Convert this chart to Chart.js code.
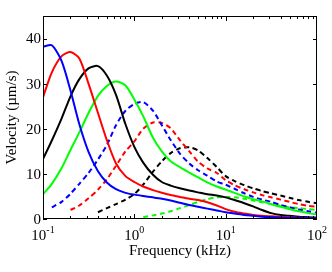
<!DOCTYPE html>
<html>
<head>
<meta charset="utf-8">
<script src="https://cdn.jsdelivr.net/npm/chart.js@4"></script>
<style>
  html, body { margin: 0; padding: 0; background: #fff; }
  canvas { display: block; }
</style>
</head>
<body>
<canvas id="grafico" width="332" height="272"></canvas>
<script>
// frecuencias en kHz (tercios de octava)
const freqs = [0.1, 0.125, 0.16, 0.2, 0.25, 0.315, 0.4, 0.5, 0.63, 0.8, 1, 1.25, 1.6, 2, 2.5, 3.15, 4, 5, 6.3, 8, 10, 12.5, 16, 20, 25, 31.5, 40, 50, 63, 80, 100];

const blueSolid  = [38.2, 38.5, 35, 28.5, 21, 14.9, 10.6, 8.1, 6.6, 5.8, 5.4, 5.1, 4.8, 4.5, 4.1, 3.6, 3.1, 2.7, 2.3, 1.9, 1.5, 1.2, 0.9, 0.7, 0.5, 0.4, 0.3, 0.3, 0.2, 0.2, 0.2];
const redSolid   = [27, 32.5, 36.1, 37, 35.6, 30, 23.5, 17.5, 12.3, 9.5, 8.2, 7.2, 6.4, 5.8, 5.3, 4.9, 4.5, 4.2, 3.7, 3.0, 2.2, 1.6, 1.2, 0.9, 0.7, 0.6, 0.5, 0.4, 0.3, 0.3, 0.3];
const blackSolid = [13.3, 17.4, 22.3, 27.2, 31, 33.4, 33.9, 31.8, 27.5, 21, 16, 12.5, 9.8, 8.2, 7.4, 6.8, 6.3, 5.9, 5.5, 5.2, 4.8, 4.2, 3.5, 2.8, 2.0, 1.3, 0.9, 0.7, 0.5, 0.4, 0.3];
const greenSolid = [5.5, 7.8, 11.3, 15.3, 19.2, 23.5, 27.3, 29.5, 30.5, 29.6, 26.5, 22.8, 18, 15, 12.8, 11.5, 10.3, 9.2, 8.1, 7.2, 6.5, 5.8, 5.0, 4.4, 3.9, 3.3, 2.7, 2.2, 1.7, 1.3, 1.0];
const blueDash   = [null, 2.6, 3.8, 5.6, 7.8, 10.2, 13.2, 16.4, 20.8, 24, 25.5, 25.9, 24, 20.8, 17.5, 14.5, 12.3, 10.8, 9.6, 8.3, 7.6, 6.7, 5.7, 4.9, 4.3, 3.8, 3.1, 2.6, 2.1, 1.7, 1.4];
const redDash    = [null, null, null, 2.0, 3.0, 4.6, 6.5, 8.8, 11.8, 15, 17.2, 20, 21.4, 21.3, 20.1, 17.5, 15, 12.7, 11.2, 10.2, 8.6, 7.5, 6.6, 5.9, 5.3, 4.8, 4.3, 3.8, 3.3, 2.9, 2.7];
const blackDash  = [null, null, null, null, null, null, 1.5, 2.4, 3.3, 4.3, 5.5, 7.6, 10.5, 12.8, 14.6, 15.7, 15.9, 15.2, 13.5, 11.5, 9.5, 8.4, 7.5, 6.8, 6.2, 5.7, 5.2, 4.7, 4.2, 3.8, 3.5];
const greenDash  = [null, null, null, null, null, null, null, null, null, null, null, 0.4, 0.8, 1.2, 1.7, 2.4, 3.1, 3.8, 4.4, 4.8, 4.9, 4.8, 4.5, 4.1, 3.7, 3.3, 2.9, 2.6, 2.4, 2.2, 2.0];

const xTicks = [0.1, 1, 10, 100];
const xTickExp = ["-1", "0", "1", "2"];
const yTicks = [0, 10, 20, 30, 40];

const serie = (vals, color, dashed) => ({
    data: freqs.map((f, i) => ({x: f, y: vals[i]})).filter(p => p.y !== null),
    borderColor: color,
    borderWidth: 2,
    borderDash: dashed ? [5, 3.5] : [],
    pointRadius: 0,
    fill: false,
    tension: 0.25
});

const ejes = {
    id: 'ejes',
    afterDraw(chart) {
        const ctx = chart.ctx;
        const a = chart.chartArea;
        const sx = chart.scales.x, sy = chart.scales.y;
        ctx.save();
        ctx.strokeStyle = '#000';
        ctx.lineWidth = 1;
        ctx.strokeRect(Math.round(a.left) + 0.5, Math.round(a.top) + 0.5, Math.round(a.right - a.left) - 1, Math.round(a.bottom - a.top) - 1);

        // marcas del eje x
        ctx.beginPath();
        for (let d = 0; d < 3; d++) {
            for (let m = 1; m <= 9; m++) {
                const v = xTicks[d] * m;
                const px = Math.round(sx.getPixelForValue(v)) + 0.5;
                const len = m === 1 ? 5 : 3;
                ctx.moveTo(px, a.bottom); ctx.lineTo(px, a.bottom - len);
                ctx.moveTo(px, a.top); ctx.lineTo(px, a.top + len);
            }
        }
        // marcas del eje y
        yTicks.forEach(v => {
            const py = Math.round(sy.getPixelForValue(v)) + 0.5;
            ctx.moveTo(a.left, py); ctx.lineTo(a.left + 4, py);
            ctx.moveTo(a.right, py); ctx.lineTo(a.right - 4, py);
        });
        ctx.stroke();

        ctx.fillStyle = '#000';
        // etiquetas y
        ctx.font = '15px "Liberation Serif"';
        ctx.textAlign = 'right';
        ctx.textBaseline = 'middle';
        yTicks.forEach(v => {
            ctx.fillText(String(v), a.left - 2, sy.getPixelForValue(v) + 1);
        });

        // etiquetas x con exponente
        ctx.textAlign = 'left';
        ctx.textBaseline = 'alphabetic';
        xTicks.forEach((v, i) => {
            ctx.font = '15px "Liberation Serif"';
            const wb = ctx.measureText('10').width;
            ctx.font = '10px "Liberation Serif"';
            const we = ctx.measureText(xTickExp[i]).width;
            const x0 = sx.getPixelForValue(v) - (wb + we) / 2;
            ctx.font = '15px "Liberation Serif"';
            ctx.fillText('10', x0, 240);
            ctx.font = '10px "Liberation Serif"';
            ctx.fillText(xTickExp[i], x0 + wb, 233);
        });

        // títulos
        ctx.font = '15px "Liberation Serif"';
        ctx.textAlign = 'center';
        ctx.fillText('Frequency (kHz)', (a.left + a.right) / 2, 255);
        ctx.translate(16, (a.top + a.bottom) / 2);
        ctx.rotate(-Math.PI / 2);
        ctx.fillText('Velocity (µm/s)', 0, 0);
        ctx.restore();
    }
};

new Chart(document.getElementById('grafico').getContext('2d'), {
    type: 'line',
    data: {
        datasets: [
            serie(blueSolid, '#0000ff', false),
            serie(redSolid, '#ff0000', false),
            serie(blackSolid, '#000000', false),
            serie(greenSolid, '#00ff00', false),
            serie(blueDash, '#0000ff', true),
            serie(redDash, '#ff0000', true),
            serie(blackDash, '#000000', true),
            serie(greenDash, '#00ff00', true)
        ]
    },
    options: {
        responsive: false,
        animation: false,
        devicePixelRatio: 1,
        layout: {padding: {top: 16, right: 15, left: 0, bottom: 0}},
        plugins: {legend: {display: false}, tooltip: {enabled: false}},
        scales: {
            x: {
                type: 'logarithmic', min: 0.1, max: 100,
                ticks: {display: false}, grid: {display: false}, border: {display: false},
                afterFit: s => { s.height = 53; }
            },
            y: {
                type: 'linear', min: 0, max: 45,
                ticks: {display: false}, grid: {display: false}, border: {display: false},
                afterFit: s => { s.width = 43; }
            }
        }
    },
    plugins: [ejes]
});
</script>
</body>
</html>
